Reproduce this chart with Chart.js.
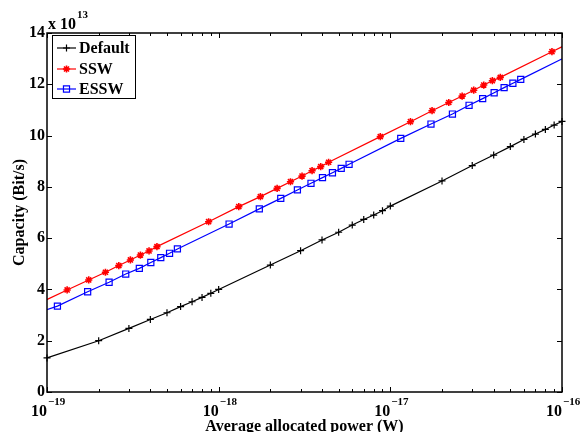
<!DOCTYPE html>
<html><head><meta charset="utf-8">
<script src="https://cdn.jsdelivr.net/npm/chart.js@4/dist/chart.umd.min.js"></script>
<style>html,body{margin:0;padding:0;background:#fff}</style>
</head><body>
<canvas id="c" width="581" height="432"></canvas>
<script>
// ---- data ----
const seriesNames = ['Default', 'SSW', 'ESSW'];
const seriesColors = ['#000000', '#ff0000', '#0000ff'];

const powerDefault = [1e-19,2e-19,3e-19,4e-19,5e-19,6e-19,7e-19,8e-19,9e-19,
  1e-18,2e-18,3e-18,4e-18,5e-18,6e-18,7e-18,8e-18,9e-18,
  1e-17,2e-17,3e-17,4e-17,5e-17,6e-17,7e-17,8e-17,9e-17,1e-16];
const capDefault = [1.33,2.0,2.48,2.83,3.09,3.33,3.52,3.69,3.85,
  4.0,4.95,5.51,5.93,6.23,6.51,6.73,6.9,7.07,
  7.25,8.23,8.83,9.24,9.57,9.85,10.06,10.24,10.41,10.55];

const powerSSW = [8.74e-20,1.31e-19,1.75e-19,2.19e-19,2.62e-19,3.06e-19,3.5e-19,3.93e-19,4.37e-19,
  8.74e-19,1.31e-18,1.75e-18,2.19e-18,2.62e-18,3.06e-18,3.5e-18,3.93e-18,4.37e-18,
  8.74e-18,1.31e-17,1.75e-17,2.19e-17,2.62e-17,3.06e-17,3.5e-17,3.93e-17,4.37e-17,
  8.74e-17,1.311e-16];
const capSSW = [3.42,3.98,4.37,4.67,4.93,5.15,5.34,5.5,5.67,
  6.64,7.23,7.62,7.94,8.2,8.42,8.63,8.79,8.96,
  9.96,10.54,10.97,11.29,11.54,11.77,11.97,12.14,12.27,
  13.27,13.85];

const powerESSW = [5.75e-20,1.15e-19,1.725e-19,2.3e-19,2.875e-19,3.45e-19,4.025e-19,4.6e-19,5.175e-19,
  5.75e-19,1.15e-18,1.725e-18,2.3e-18,2.875e-18,3.45e-18,4.025e-18,4.6e-18,5.175e-18,
  5.75e-18,1.15e-17,1.725e-17,2.3e-17,2.875e-17,3.45e-17,4.025e-17,4.6e-17,5.175e-17,
  5.75e-17,1.15e-16];
const capESSW = [2.65,3.35,3.91,4.28,4.6,4.82,5.05,5.24,5.41,
  5.58,6.55,7.14,7.55,7.88,8.14,8.36,8.55,8.72,
  8.88,9.89,10.45,10.84,11.18,11.44,11.67,11.87,12.04,
  12.19,13.19];

const yTickValues = [0,2,4,6,8,10,12,14];
const xTickExponents = [-19,-18,-17,-16];
const yExponent = '13';
const xTitle = 'Average allocated power (W)';
const yTitle = 'Capacity (Bit/s)';

// ---- drawing ----
const FONT = '"Liberation Serif", "Times New Roman", serif';
const toPts = (xs, ys) => xs.map((x, i) => ({x: x, y: ys[i]}));

function sup(ctx, base, exp, x, y, align) {
  ctx.font = 'bold 16px ' + FONT;
  const wb = ctx.measureText(base).width;
  ctx.font = 'bold 11px ' + FONT;
  const we = ctx.measureText(exp).width;
  let x0 = x;
  if (align === 'tick') x0 = x - wb;
  ctx.textAlign = 'left';
  ctx.textBaseline = 'alphabetic';
  ctx.font = 'bold 16px ' + FONT;
  ctx.fillText(base, x0, y);
  ctx.font = 'bold 11px ' + FONT;
  ctx.fillText(exp, x0 + wb + 1, y - 11);
}

const matlabPlugin = {
  id: 'matlab',
  afterDatasetsDraw(chart) {
    const ctx = chart.ctx, a = chart.chartArea;
    const xs = chart.scales.x, ys = chart.scales.y;
    ctx.save();
    ctx.fillStyle = '#000';
    ctx.strokeStyle = '#000';
    // ticks
    ctx.lineWidth = 1;
    ctx.beginPath();
    yTickValues.forEach(v => {
      const y = Math.round(ys.getPixelForValue(v)) + 0.5;
      ctx.moveTo(a.left, y); ctx.lineTo(a.left + 5, y);
      ctx.moveTo(a.right, y); ctx.lineTo(a.right - 5, y);
    });
    xTickExponents.forEach((e, i) => {
      for (let k = 1; k <= 9; k++) {
        if (k > 1 && i === xTickExponents.length - 1) break;
        const x = Math.round(xs.getPixelForValue(k * Math.pow(10, e))) + 0.5;
        const L = k === 1 ? 5 : 3;
        ctx.moveTo(x, a.bottom); ctx.lineTo(x, a.bottom - L);
        ctx.moveTo(x, a.top); ctx.lineTo(x, a.top + L);
      }
    });
    ctx.stroke();
    // box
    ctx.lineWidth = 1.5;
    ctx.strokeRect(a.left, a.top, a.right - a.left, a.bottom - a.top);

    // y tick labels
    ctx.font = 'bold 16px ' + FONT;
    ctx.textAlign = 'right';
    ctx.textBaseline = 'middle';
    yTickValues.forEach(v => {
      ctx.fillText(String(v), a.left - 2, ys.getPixelForValue(v));
    });
    // x tick labels
    xTickExponents.forEach(e => {
      const x = xs.getPixelForValue(Math.pow(10, e));
      sup(ctx, '10', '\u2212' + String(-e), x, 416, 'tick');
    });
    // exponent label
    sup(ctx, 'x 10', yExponent, a.left + 1, 29, 'left');

    // titles
    ctx.font = 'bold 16px ' + FONT;
    ctx.textAlign = 'center';
    ctx.textBaseline = 'alphabetic';
    ctx.fillText(xTitle, (a.left + a.right) / 2, 431);
    ctx.save();
    ctx.translate(24, (a.top + a.bottom) / 2);
    ctx.rotate(-Math.PI / 2);
    ctx.textBaseline = 'alphabetic';
    ctx.fillText(yTitle, 0, 0);
    ctx.restore();

    // legend
    const lx = 52.5, ly = 35.5, lw = 83, lh = 63;
    ctx.fillStyle = '#fff';
    ctx.fillRect(lx, ly, lw, lh);
    ctx.strokeStyle = '#000';
    ctx.lineWidth = 1;
    ctx.strokeRect(lx, ly, lw, lh);
    const rows = [48, 69, 89];
    chart.data.datasets.forEach((ds, i) => {
      const y = rows[i];
      ctx.strokeStyle = ds.borderColor;
      ctx.lineWidth = ds.borderWidth;
      ctx.beginPath(); ctx.moveTo(57, y); ctx.lineTo(76, y); ctx.stroke();
      ctx.fillStyle = ds.pointBackgroundColor;
      ctx.lineWidth = ds.pointBorderWidth;
      Chart.helpers.drawPoint(ctx, {pointStyle: ds.pointStyle, radius: ds.pointRadius, rotation: 0, borderWidth: ds.pointBorderWidth}, 66.5, y);
      ctx.fillStyle = '#000';
      ctx.font = 'bold 16px ' + FONT;
      ctx.textAlign = 'left';
      ctx.textBaseline = 'middle';
      ctx.fillText(ds.label, 79, y + 1);
    });
    ctx.restore();
  }
};

new Chart(document.getElementById('c'), {
  type: 'line',
  data: {
    datasets: [
      {label: seriesNames[0], data: toPts(powerDefault, capDefault), borderColor: seriesColors[0],
       borderWidth: 1.2, pointStyle: 'cross', pointRadius: 3.5, pointBorderWidth: 1.2,
       pointBorderColor: seriesColors[0], pointBackgroundColor: seriesColors[0], clip: false},
      {label: seriesNames[1], data: toPts(powerSSW, capSSW), borderColor: seriesColors[1],
       borderWidth: 1.2, pointStyle: 'star', pointRadius: 3.6, pointBorderWidth: 1.6,
       pointBorderColor: seriesColors[1], pointBackgroundColor: seriesColors[1]},
      {label: seriesNames[2], data: toPts(powerESSW, capESSW), borderColor: seriesColors[2],
       borderWidth: 1.2, pointStyle: 'rect', pointRadius: 4.3, pointBorderWidth: 1.2,
       pointBorderColor: seriesColors[2], pointBackgroundColor: 'rgba(0,0,0,0)'}
    ]
  },
  options: {
    responsive: false,
    devicePixelRatio: 1,
    animation: false,
    layout: {padding: {left: 47, right: 19, top: 33, bottom: 40}},
    scales: {
      x: {type: 'logarithmic', min: 1e-19, max: 1e-16, display: false},
      y: {type: 'linear', min: 0, max: 14, display: false}
    },
    elements: {line: {tension: 0}},
    plugins: {legend: {display: false}, tooltip: {enabled: false}}
  },
  plugins: [matlabPlugin]
});
</script>
</body></html>
